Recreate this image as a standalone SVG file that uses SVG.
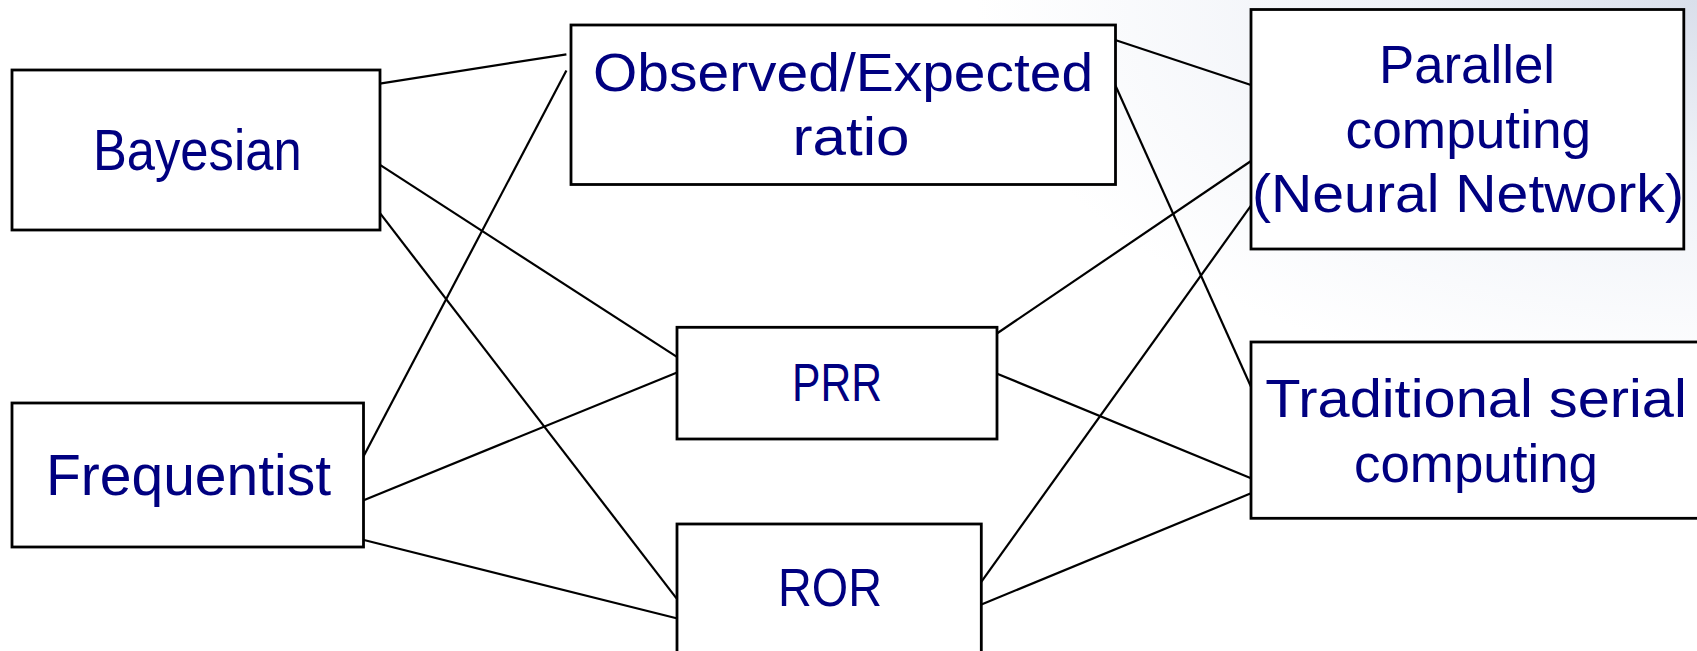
<svg xmlns="http://www.w3.org/2000/svg" width="1697" height="651" viewBox="0 0 1697 651">
<style>
.box{fill:#ffffff;stroke:#000000;stroke-width:2.8}
.lbl{font-family:"Liberation Sans","DejaVu Sans",sans-serif;fill:#000080;text-anchor:middle;font-size:54px}
.big{font-size:58px}
.conn line{stroke:#000000;stroke-width:2.2}
</style>
<defs>
<radialGradient id="bg" cx="1697" cy="0" r="720" gradientUnits="userSpaceOnUse" gradientTransform="translate(1697 0) scale(1 0.55) translate(-1697 0)">
<stop offset="0" stop-color="#d9dfeb"/>
<stop offset="0.4" stop-color="#eef1f7"/>
<stop offset="1" stop-color="#ffffff"/>
</radialGradient>
</defs>
<rect x="0" y="0" width="1697" height="651" fill="#ffffff"/>
<rect x="0" y="0" width="1697" height="651" fill="url(#bg)"/>
<g id="connectors" class="conn">
<line x1="375" y1="84.3" x2="566.4" y2="54.3"/>
<line x1="360" y1="463" x2="566.4" y2="70.5"/>
<line x1="375" y1="161.7" x2="676.5" y2="356.7"/>
<line x1="375" y1="206.7" x2="676.5" y2="598.3"/>
<line x1="360" y1="501.7" x2="676.5" y2="372.7"/>
<line x1="360" y1="539" x2="676.5" y2="618.3"/>
<line x1="1115.2" y1="40" x2="1251" y2="85"/>
<line x1="1115.2" y1="85" x2="1251" y2="386.7"/>
<line x1="994.7" y1="335" x2="1251" y2="161"/>
<line x1="994.7" y1="372.7" x2="1251" y2="478.3"/>
<line x1="980.2" y1="583.3" x2="1251" y2="205.7"/>
<line x1="980.2" y1="605" x2="1251" y2="493.3"/>
</g>
<g id="bayesian">
<rect class="box" x="12" y="70" width="368" height="160"/>
<text class="lbl big" x="197.3" y="170" textLength="208.6" lengthAdjust="spacingAndGlyphs">Bayesian</text>
</g>
<g id="frequentist">
<rect class="box" x="12" y="403" width="351.5" height="144"/>
<text class="lbl big" x="188.5" y="495" textLength="285" lengthAdjust="spacingAndGlyphs">Frequentist</text>
</g>
<g id="observed-expected">
<rect class="box" x="571" y="25" width="544.5" height="159.5"/>
<text class="lbl" x="843.1" y="90.7" textLength="500" lengthAdjust="spacingAndGlyphs">Observed/Expected</text>
<text class="lbl" x="851" y="155" textLength="117" lengthAdjust="spacingAndGlyphs">ratio</text>
</g>
<g id="prr">
<rect class="box" x="677" y="327.3" width="320" height="111.7"/>
<text class="lbl" x="837" y="401" textLength="90" lengthAdjust="spacingAndGlyphs">PRR</text>
</g>
<g id="ror">
<rect class="box" x="677" y="524" width="304.3" height="140"/>
<text class="lbl" x="830" y="606" textLength="104" lengthAdjust="spacingAndGlyphs">ROR</text>
</g>
<g id="parallel">
<rect class="box" x="1251" y="9.5" width="432.8" height="239.5"/>
<text class="lbl" x="1467" y="83.3" textLength="176" lengthAdjust="spacingAndGlyphs">Parallel</text>
<text class="lbl" x="1468.4" y="148.3" textLength="245.6" lengthAdjust="spacingAndGlyphs">computing</text>
<text class="lbl" x="1468" y="211.7" textLength="432" lengthAdjust="spacingAndGlyphs">(Neural Network)</text>
</g>
<g id="traditional">
<rect class="box" x="1251" y="342" width="460" height="176.3"/>
<text class="lbl" x="1476" y="417.3" textLength="421.7" lengthAdjust="spacingAndGlyphs">Traditional serial</text>
<text class="lbl" x="1476" y="481.7" textLength="244" lengthAdjust="spacingAndGlyphs">computing</text>
</g>
</svg>
